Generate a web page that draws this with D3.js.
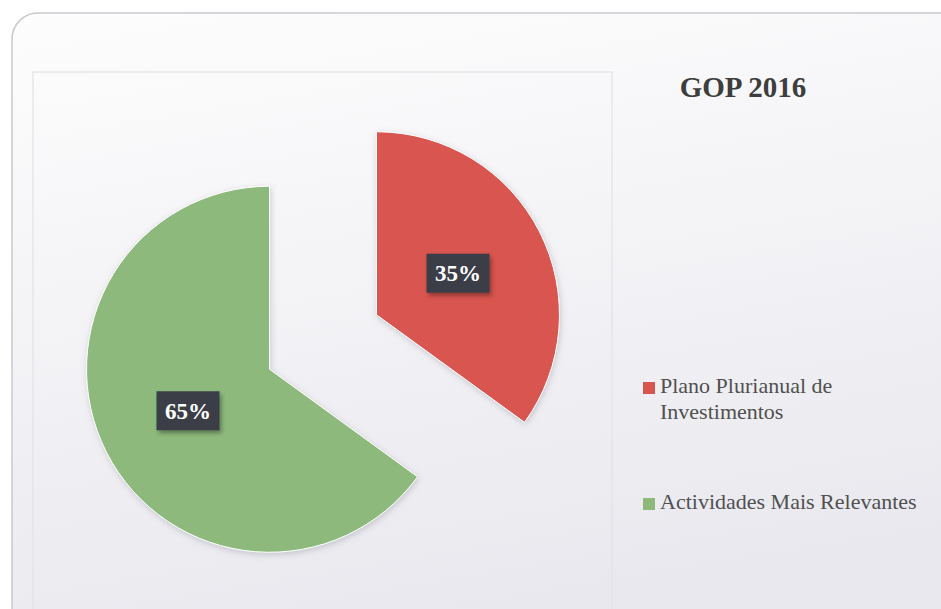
<!DOCTYPE html>
<html>
<head>
<meta charset="utf-8">
<script src="https://cdn.jsdelivr.net/npm/d3@7"></script>
<style>
  html, body { margin: 0; padding: 0; background: #ffffff; }
  svg { display: block; }
</style>
</head>
<body>
<svg id="chart" width="941" height="609"></svg>
<script>
// data
const categories = ['Plano Plurianual de Investimentos', 'Actividades Mais Relevantes']
const values = [35, 65]
const legendLines = [['Plano Plurianual de', 'Investimentos'], ['Actividades Mais Relevantes']]
const title = 'GOP 2016'

const svg = d3.select('#chart')
const width = +svg.attr('width'), height = +svg.attr('height')

/* colours */
const color = d3.scaleOrdinal()
    .domain(categories)
    .range(['#d9544f', '#8dba7b'])

/* params */
const cx = 323, cy = 342, r = 183, explode = 60
const serif = '"Liberation Serif", "DejaVu Serif", serif'

const defs = svg.append('defs')

const grad = defs.append('linearGradient')
    .attr('id', 'bg_grad')
    .attr('x1', 0).attr('y1', 0).attr('x2', 0.25).attr('y2', 1)
grad.append('stop').attr('offset', '0%').attr('stop-color', '#fdfdfd')
grad.append('stop').attr('offset', '45%').attr('stop-color', '#f4f4f7')
grad.append('stop').attr('offset', '100%').attr('stop-color', '#e8e8ee')

const shadow = defs.append('filter')
    .attr('id', 'slice_shadow')
    .attr('x', '-20%').attr('y', '-20%').attr('width', '140%').attr('height', '140%')
shadow.append('feDropShadow')
    .attr('dx', 1).attr('dy', 2).attr('stdDeviation', 3)
    .attr('flood-color', '#7a7a88').attr('flood-opacity', 0.35)

const boxShadow = defs.append('filter')
    .attr('id', 'box_shadow')
    .attr('x', '-30%').attr('y', '-30%').attr('width', '160%').attr('height', '160%')
boxShadow.append('feDropShadow')
    .attr('dx', 2).attr('dy', 3).attr('stdDeviation', 2)
    .attr('flood-color', '#000').attr('flood-opacity', 0.35)

/* outer rounded frame */
svg.append('rect')
    .attr('x', 12).attr('y', 13)
    .attr('width', 960).attr('height', 640)
    .attr('rx', 26)
    .attr('fill', 'url(#bg_grad)')
    .attr('stroke', '#c9c9ce')
    .attr('stroke-width', 1.5)

/* plot area */
svg.append('rect')
    .attr('x', 33).attr('y', 72)
    .attr('width', 579).attr('height', 580)
    .attr('fill', 'none')
    .attr('stroke', '#e2e2e8')
    .attr('stroke-width', 1.2)

/* pie */
const pie = d3.pie().sort(null).value(d => d.value)
const arc = d3.arc().innerRadius(0).outerRadius(r)

const arcs = pie(categories.map((c, i) => ({ name: c, value: values[i] })))

const offset = d => {
    const a = (d.startAngle + d.endAngle) / 2
    return [explode * Math.sin(a), -explode * Math.cos(a)]
}

const slices = svg.append('g')
    .attr('transform', `translate(${cx},${cy})`)
    .selectAll('g')
    .data(arcs)
    .join('g')
    .attr('transform', d => `translate(${offset(d)})`)

slices.append('path')
    .attr('d', arc)
    .attr('fill', d => color(d.data.name))
    .attr('stroke', '#ffffff')
    .attr('stroke-width', 1)
    .attr('filter', 'url(#slice_shadow)')

/* percentage labels */
const total = d3.sum(values)
const labels = slices.append('g')
    .attr('transform', d => `translate(${arc.centroid(d)})`)

labels.append('rect')
    .attr('x', -31.5).attr('y', -19.5)
    .attr('width', 63).attr('height', 39)
    .attr('fill', '#3b3c46')
    .attr('filter', 'url(#box_shadow)')

labels.append('text')
    .attr('text-anchor', 'middle')
    .attr('dy', '0.35em')
    .style('font-family', serif)
    .style('font-weight', 'bold')
    .style('font-size', '23px')
    .attr('fill', '#ffffff')
    .text(d => `${Math.round(d.data.value / total * 100)}%`)

/* title */
svg.append('text')
    .attr('x', 743).attr('y', 97)
    .attr('text-anchor', 'middle')
    .style('font-family', serif)
    .style('font-weight', 'bold')
    .style('font-size', '29px')
    .attr('fill', '#3d3d3d')
    .text(title)

/* legend */
const legend = svg.append('g')
    .selectAll('g')
    .data(categories)
    .join('g')
    .attr('transform', (d, i) => `translate(643,${[382, 498][i]})`)

legend.append('rect')
    .attr('width', 12).attr('height', 12)
    .attr('fill', d => color(d))

legend.append('text')
    .attr('x', 17).attr('y', 11)
    .style('font-family', serif)
    .style('font-size', '22px')
    .attr('fill', '#505050')
    .selectAll('tspan')
    .data((d, i) => legendLines[i])
    .join('tspan')
    .attr('x', 17)
    .attr('dy', (d, i) => i == 0 ? 0 : 26)
    .text(d => d)
</script>
</body>
</html>
